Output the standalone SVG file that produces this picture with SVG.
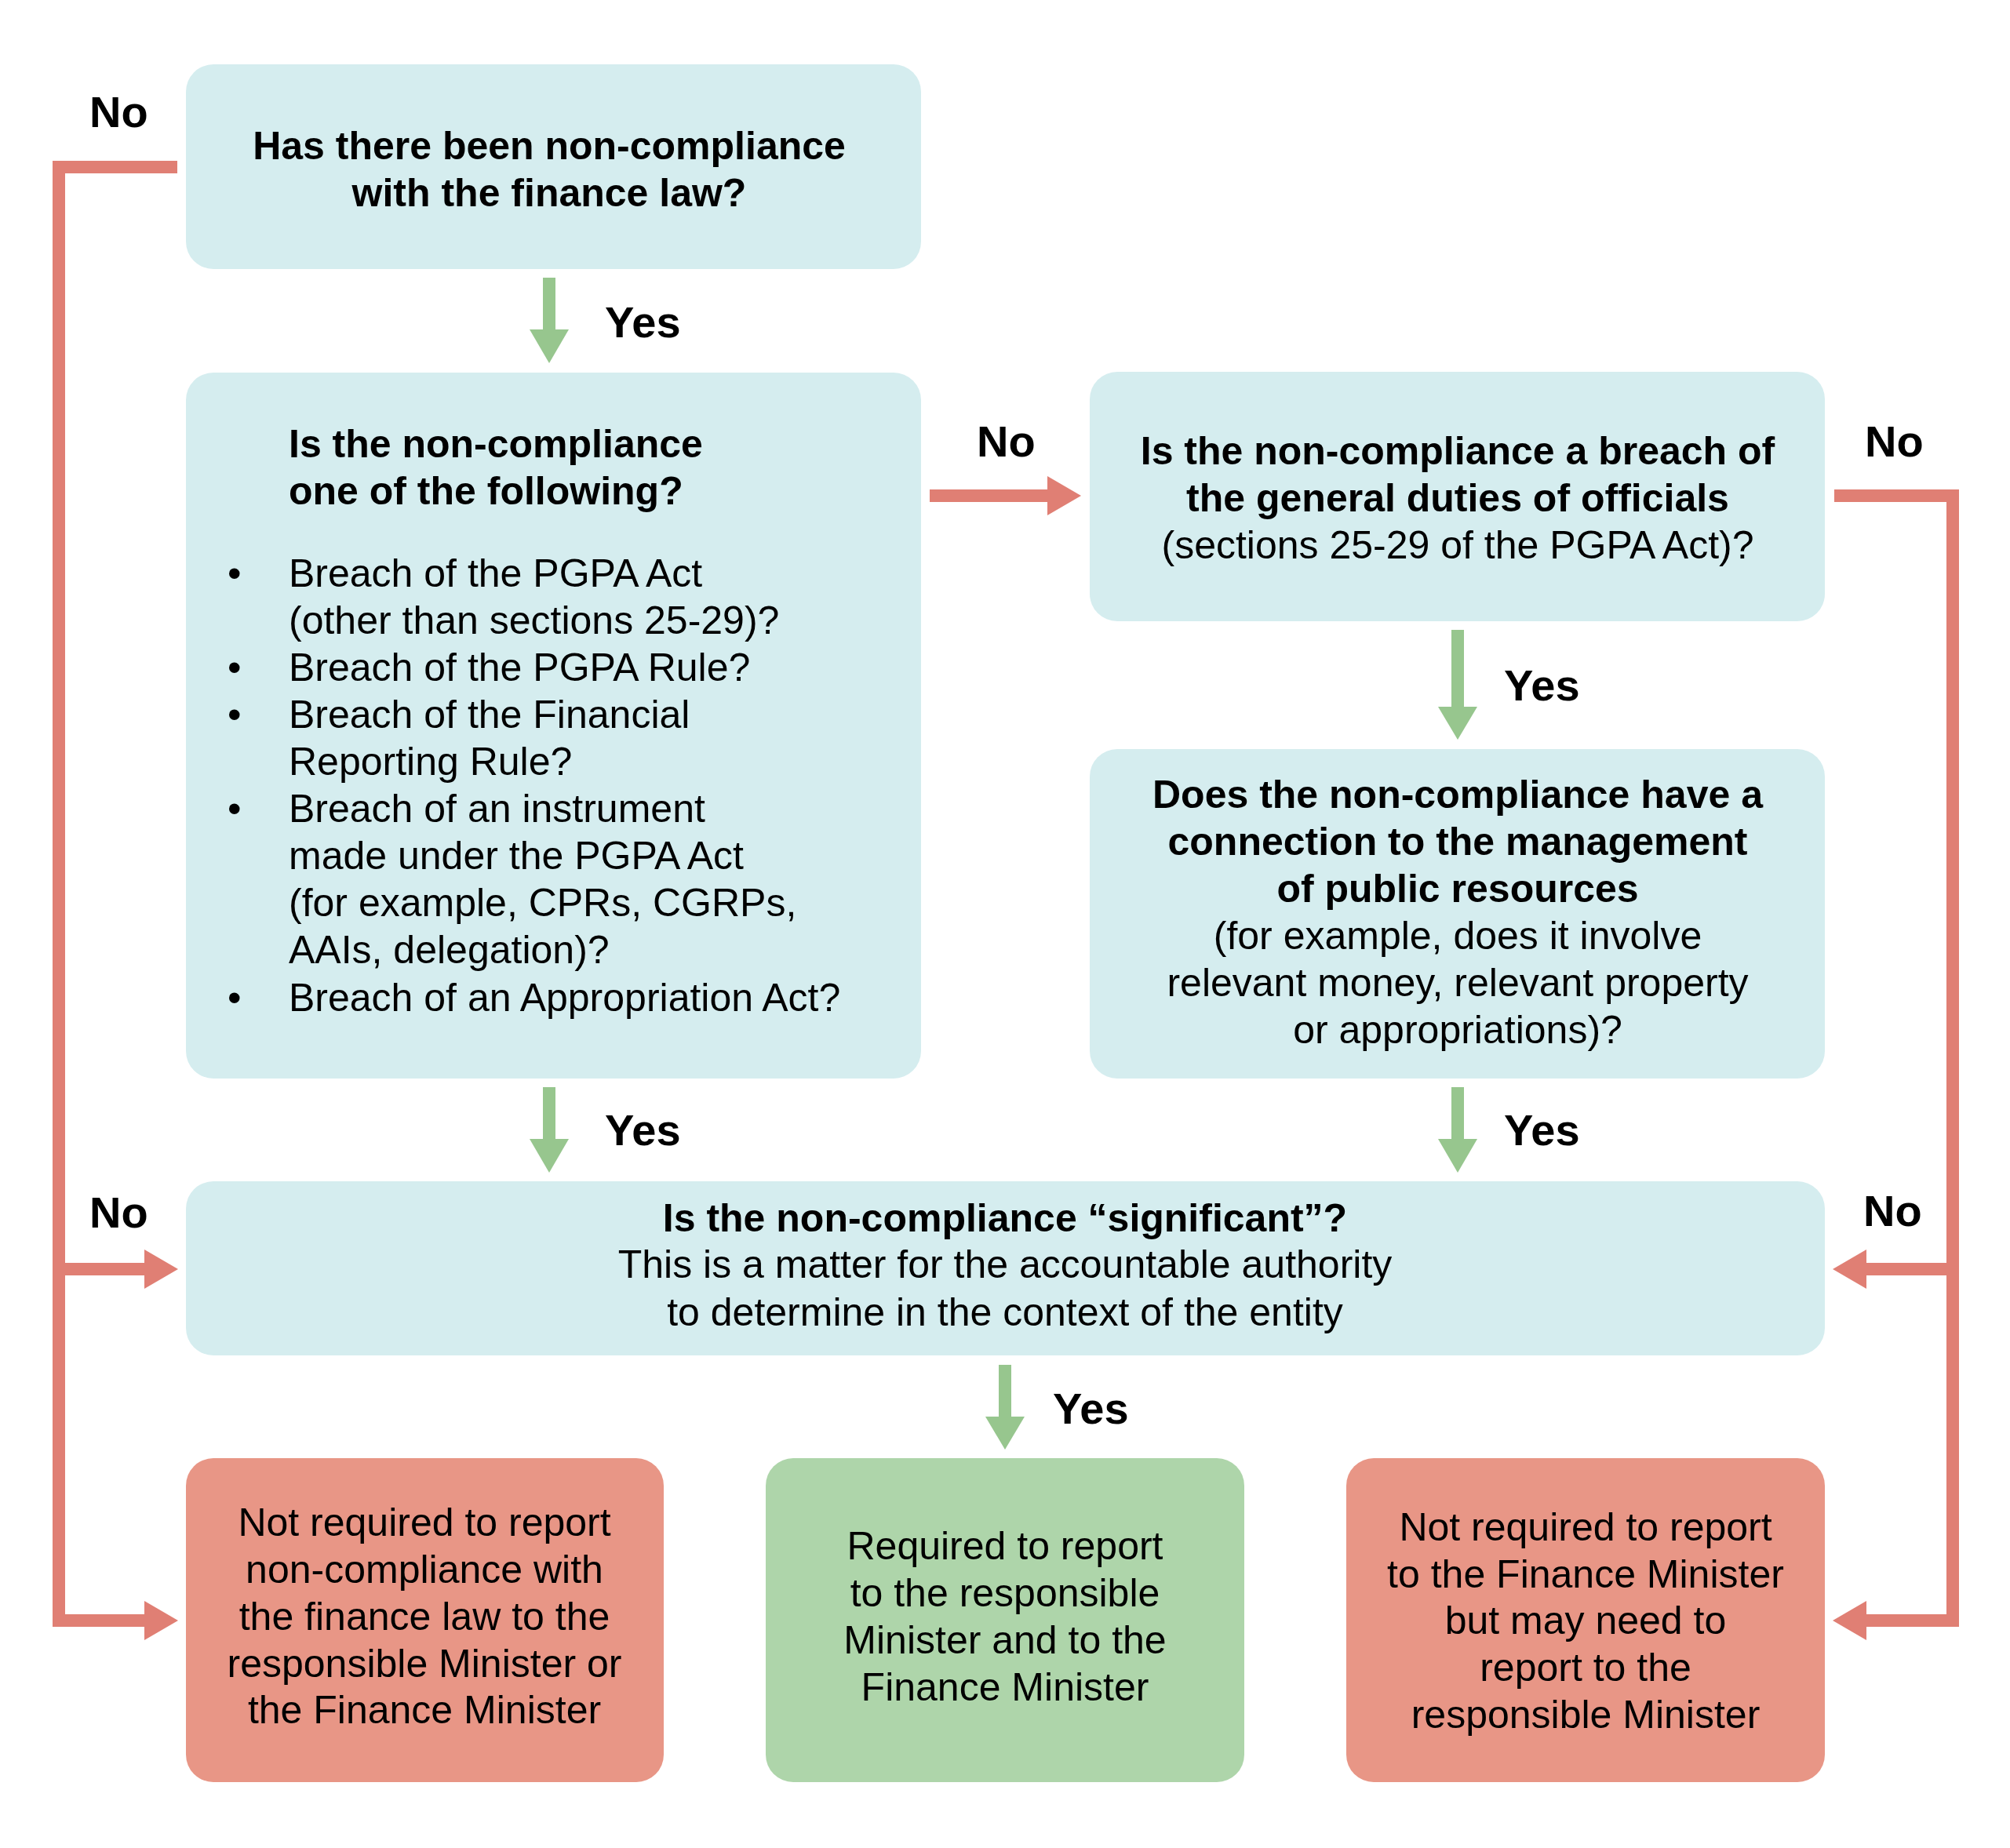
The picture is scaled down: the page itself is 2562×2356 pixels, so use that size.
<svg xmlns="http://www.w3.org/2000/svg" width="2562" height="2356" viewBox="0 0 2562 2356">
<style>
.q{fill:#d5edef}
.r{fill:#e89686}
.g{fill:#aed5aa}
.t{font-family:"Liberation Sans",Arial,sans-serif;font-size:50px;fill:#000}
.b{font-weight:bold}
.c{text-anchor:middle}
.lbl{font-family:"Liberation Sans",Arial,sans-serif;font-size:56px;font-weight:bold;fill:#000}
.rl{fill:none;stroke:#e07f74;stroke-width:16;stroke-linejoin:miter}
.rh{fill:#e07f74}
.gl{fill:none;stroke:#97c68e;stroke-width:16}
.gh{fill:#97c68e}
</style>
<rect width="2562" height="2356" fill="#fff"/>
<g id="connectors">
<path class="rl" d="M226,213 H75 V2066 H186"/>
<path class="rl" d="M75,1618 H186"/>
<polygon class="rh" points="184,1593 227,1618 184,1643"/>
<polygon class="rh" points="184,2041 227,2066 184,2091"/>
<path class="rl" d="M1185,632 H1337"/>
<polygon class="rh" points="1335,607 1378,632 1335,657"/>
<path class="rl" d="M2338,632 H2489 V2066 H2377"/>
<path class="rl" d="M2489,1618 H2377"/>
<polygon class="rh" points="2379,1593 2336,1618 2379,1643"/>
<polygon class="rh" points="2379,2041 2336,2066 2379,2091"/>
<path class="gl" d="M700,354 V422"/>
<polygon class="gh" points="675,420 725,420 700,463"/>
<path class="gl" d="M700,1386 V1454"/>
<polygon class="gh" points="675,1452 725,1452 700,1495"/>
<path class="gl" d="M1858,803 V903"/>
<polygon class="gh" points="1833,901 1883,901 1858,943"/>
<path class="gl" d="M1858,1386 V1454"/>
<polygon class="gh" points="1833,1452 1883,1452 1858,1495"/>
<path class="gl" d="M1281,1740 V1808"/>
<polygon class="gh" points="1256,1806 1306,1806 1281,1848"/>
<text class="lbl" x="771" y="430">Yes</text>
<text class="lbl" x="771" y="1460">Yes</text>
<text class="lbl" x="1917" y="893">Yes</text>
<text class="lbl" x="1917" y="1460">Yes</text>
<text class="lbl" x="1342" y="1815">Yes</text>
<text class="lbl" x="114" y="162">No</text>
<text class="lbl" x="114" y="1565">No</text>
<text class="lbl" x="1245" y="582">No</text>
<text class="lbl" x="2377" y="582">No</text>
<text class="lbl" x="2375" y="1563">No</text>
</g>
<g id="n1">
<rect class="q" x="237" y="82" width="937" height="261" rx="35"/>
<text class="t b c" x="700" y="203">Has there been non-compliance</text>
<text class="t b c" x="700" y="263">with the finance law?</text>
</g>
<g id="n2">
<rect class="q" x="237" y="475" width="937" height="900" rx="35"/>
<text class="t b" x="368" y="583">Is the non-compliance</text>
<text class="t b" x="368" y="643">one of the following?</text>
<g class="t">
<text x="290" y="748">•</text>
<text x="368" y="748">Breach of the PGPA Act</text>
<text x="368" y="808">(other than sections 25-29)?</text>
<text x="290" y="868">•</text>
<text x="368" y="868">Breach of the PGPA Rule?</text>
<text x="290" y="928">•</text>
<text x="368" y="928">Breach of the Financial</text>
<text x="368" y="988">Reporting Rule?</text>
<text x="290" y="1048">•</text>
<text x="368" y="1048">Breach of an instrument</text>
<text x="368" y="1108">made under the PGPA Act</text>
<text x="368" y="1168">(for example, CPRs, CGRPs,</text>
<text x="368" y="1228">AAIs, delegation)?</text>
<text x="290" y="1289">•</text>
<text x="368" y="1289">Breach of an Appropriation Act?</text>
</g>
</g>
<g id="n3">
<rect class="q" x="1389" y="474" width="937" height="318" rx="35"/>
<text class="t b c" x="1858" y="592">Is the non-compliance a breach of</text>
<text class="t b c" x="1858" y="652">the general duties of officials</text>
<text class="t c" x="1858" y="712">(sections 25-29 of the PGPA Act)?</text>
</g>
<g id="n4">
<rect class="q" x="1389" y="955" width="937" height="420" rx="35"/>
<text class="t b c" x="1858" y="1030">Does the non-compliance have a</text>
<text class="t b c" x="1858" y="1090">connection to the management</text>
<text class="t b c" x="1858" y="1150">of public resources</text>
<text class="t c" x="1858" y="1210">(for example, does it involve</text>
<text class="t c" x="1858" y="1270">relevant money, relevant property</text>
<text class="t c" x="1858" y="1330">or appropriations)?</text>
</g>
<g id="n5">
<rect class="q" x="237" y="1506" width="2089" height="222" rx="35"/>
<text class="t b c" x="1281" y="1570">Is the non-compliance “significant”?</text>
<text class="t c" x="1281" y="1629">This is a matter for the accountable authority</text>
<text class="t c" x="1281" y="1690">to determine in the context of the entity</text>
</g>
<g id="n6">
<rect class="r" x="237" y="1859" width="609" height="413" rx="35"/>
<text class="t c" x="541" y="1958">Not required to report</text>
<text class="t c" x="541" y="2018">non-compliance with</text>
<text class="t c" x="541" y="2078">the finance law to the</text>
<text class="t c" x="541" y="2138">responsible Minister or</text>
<text class="t c" x="541" y="2197">the Finance Minister</text>
</g>
<g id="n7">
<rect class="g" x="976" y="1859" width="610" height="413" rx="35"/>
<text class="t c" x="1281" y="1988">Required to report</text>
<text class="t c" x="1281" y="2048">to the responsible</text>
<text class="t c" x="1281" y="2108">Minister and to the</text>
<text class="t c" x="1281" y="2168">Finance Minister</text>
</g>
<g id="n8">
<rect class="r" x="1716" y="1859" width="610" height="413" rx="35"/>
<text class="t c" x="2021" y="1964">Not required to report</text>
<text class="t c" x="2021" y="2024">to the Finance Minister</text>
<text class="t c" x="2021" y="2083">but may need to</text>
<text class="t c" x="2021" y="2143">report to the</text>
<text class="t c" x="2021" y="2203">responsible Minister</text>
</g>
</svg>
